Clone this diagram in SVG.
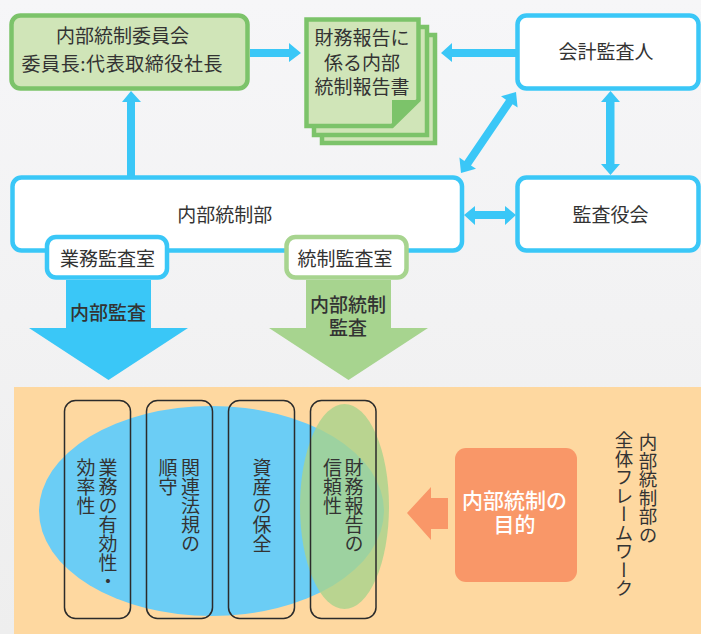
<svg xmlns="http://www.w3.org/2000/svg" width="701" height="634" viewBox="0 0 701 634">
<style>
text{font-family:"Noto Sans CJK JP","Noto Sans",sans-serif;font-size:19px;fill:#333;text-anchor:middle}
.v{writing-mode:vertical-rl;text-anchor:start}
.t{font-size:18.5px}
.b{stroke:#3ac7f7;stroke-width:4.5;fill:#fff}
.g{stroke:#7cc36a;stroke-width:4.5;fill:#d0e5b8}
.c{fill:#3ac7f7}
.o{fill:none;stroke:#2b2b2b;stroke-width:1.5}
.m{font-weight:500}
.w{fill:#fff;font-size:21px;font-weight:500}
</style>
<defs>
<linearGradient id="bg" x1="0" y1="0" x2="0" y2="1"><stop offset="0" stop-color="#f6f6f8"/><stop offset="1" stop-color="#eeeeee"/></linearGradient>
</defs>
<rect width="701" height="634" fill="url(#bg)"/>
<g id="panel">
<rect x="14" y="387" width="687" height="247" fill="#fed8a0"/>
<ellipse cx="211.500" cy="511" rx="172.500" ry="105" fill="#6bcdf5"/>
<ellipse cx="344.500" cy="506.500" rx="44.500" ry="102.500" fill="#a9d38c" fill-opacity=".81"/>
<rect class="o" x="64.500" y="400.500" width="66" height="218" rx="11"/>
<rect class="o" x="146.500" y="400.500" width="66" height="218" rx="11"/>
<rect class="o" x="228.500" y="400.500" width="66" height="218" rx="11"/>
<rect class="o" x="310.500" y="400.500" width="65.500" height="218" rx="11"/>
<text class="v" x="108" y="458">業務の有効性・</text><text class="v" x="86" y="458">効率性</text>
<text class="v" x="190.500" y="458">関連法規の</text><text class="v" x="168" y="458">順守</text>
<text class="v" x="262" y="458">資産の保全</text>
<text class="v" x="354" y="458">財務報告の</text><text class="v" x="332.500" y="458">信頼性</text>
</g>
<g id="connectors">
<polygon class="c" points="250,49 289,49 289,43 301,53 289,62 289,57 250,57"/>
<polygon class="c" points="127,177 127,102 122,102 131,91 141,102 135,102 135,177"/>
<polygon class="c" points="516,49 452,49 452,43 441,53 452,62 452,57 516,57"/>
<polygon class="c" points="606,102 601,102 610.500,91 620,102 614.500,102 614.500,164 620,164 610.500,175 601,164 606,164"/>
<polygon class="c" points="475,211 475,206 464,215 475,225 475,219 505,219 505,225 516,215 505,206 505,211"/>
<polygon class="c" points="516,92 517.600,107.500 512.600,104.200 471,165.400 476,168.700 461,173 459.400,157.500 464.400,160.900 506,99.700 501,96.300"/>
<polygon points="66,280 151,280 151,328 188,328 108.500,380 29,328 66,328" fill="#3ac7f7"/>
<polygon points="306,280 391,280 391,328 428,328 348.500,380 269,328 306,328" fill="#a7d48f"/>
<polygon points="448,498 431,498 431,487 407,513 431,540 431,529 448,529" fill="#f99768"/>
</g>
<g id="committee"><rect class="g" x="11.500" y="15.500" width="236" height="73" rx="9"/>
<text x="122.500" y="43">内部統制委員会</text><text x="122" y="71" textLength="201">委員長:代表取締役社長</text></g>
<g id="report">
<rect class="g" x="322" y="35" width="113" height="108"/>
<rect class="g" x="314" y="27" width="113" height="108"/>
<path class="g" d="M306.500 19.500H418.500V100L392 126H306.500Z"/>
<polygon points="392,100 418,100 392,126" fill="#7cc36a"/>
<text x="362" y="45">財務報告に</text><text x="362" y="70">係る内部</text><text x="362" y="94">統制報告書</text></g>
<g id="auditor"><rect class="b" x="517.500" y="15.500" width="181" height="73" rx="9"/><text x="606" y="59">会計監査人</text></g>
<g id="board"><rect class="b" x="517.500" y="177.500" width="181" height="73" rx="9"/><text x="610.500" y="222">監査役会</text></g>
<g id="dept"><rect class="b" x="12.500" y="177.500" width="449.500" height="73" rx="9"/><text x="224.700" y="222">内部統制部</text></g>
<g id="audit-office"><rect class="b" x="47" y="237" width="120" height="40.500" rx="9"/><text x="107.500" y="266">業務監査室</text></g>
<g id="control-office"><rect x="286.500" y="237" width="120" height="40.500" rx="9" fill="#fff" stroke="#a7d48f" stroke-width="4.500"/><text x="345" y="266">統制監査室</text></g>
<g id="labels"><text class="m" x="108" y="319.500">内部監査</text><text class="m" x="348" y="312">内部統制</text><text class="m" x="348" y="335">監査</text></g>
<g id="purpose"><rect x="455" y="448" width="122" height="134" rx="11" fill="#f99768"/>
<text class="w" x="514.500" y="507.500">内部統制の</text><text class="w" x="514.500" y="531.500">目的</text></g>
<g id="title"><text class="v t" x="648" y="433">内部統制部の</text><text class="v t" x="624" y="431">全体フレームワーク</text></g>
</svg>
